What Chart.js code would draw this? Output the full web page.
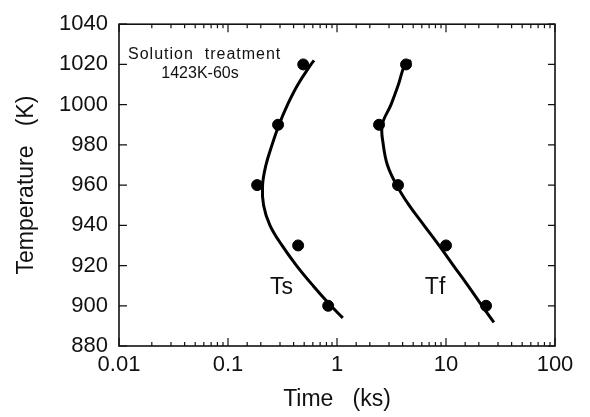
<!DOCTYPE html>
<html>
<head>
<meta charset="utf-8">
<script src="https://cdn.jsdelivr.net/npm/chart.js@4.4.1/dist/chart.umd.min.js"></script>
<style>
  html, body { margin: 0; padding: 0; background: #fff; }
  #wrap { width: 590px; height: 417px; }
</style>
</head>
<body>
<div id="wrap"><canvas id="ttt-chart"></canvas></div>
<script>
// measured points
const tsTime = [0.49, 0.288, 0.185, 0.44, 0.83];
const tsTemp = [1020, 990, 960, 930, 900];
const tfTime = [4.3, 2.43, 3.63, 10, 23.3];
const tfTemp = [1020, 990, 960, 930, 900];

// fitted curves
const tsCurveTemp = [1022, 1020, 1010, 1000, 990, 980, 970, 960, 950, 940, 930, 920, 910, 900, 894];
const tsCurveTime = [0.615, 0.577, 0.438, 0.352, 0.294, 0.2535, 0.223, 0.2075, 0.212, 0.2426, 0.313, 0.425, 0.603, 0.88, 1.13];
const tfCurveTemp = [1022, 1020, 1010, 1000, 990, 980, 970, 960, 950, 940, 930, 920, 910, 900, 891.7];
const tfCurveTime = [4.78, 4.21, 3.66, 3.13, 2.6, 2.66, 2.9, 3.52, 4.58, 6.28, 8.63, 11.7, 15.9, 21.4, 27.5];

const yTicks = [880, 900, 920, 940, 960, 980, 1000, 1020, 1040];

const FONT = '"Liberation Sans", Arial, sans-serif';

function pairs(xs, ys) {
    return xs.map((x, i) => ({ x: x, y: ys[i] }));
}

function isDecade(v) {
    const l = Math.log10(v);
    return Math.abs(l - Math.round(l)) < 1e-6;
}

// frame, inward ticks and in-plot labels
const framePlugin = {
    id: 'frame',
    afterDraw(chart) {
        const ctx = chart.ctx;
        const a = chart.chartArea;
        const xs = chart.scales.x;
        const ys = chart.scales.y;
        ctx.save();
        ctx.strokeStyle = '#111';
        ctx.lineWidth = 1.6;
        ctx.strokeRect(a.left, a.top, a.right - a.left, a.bottom - a.top);

        ctx.lineWidth = 1.2;
        ctx.beginPath();
        xs.ticks.forEach(t => {
            const px = xs.getPixelForValue(t.value);
            const len = isDecade(t.value) ? 8 : 4;
            ctx.moveTo(px, a.bottom); ctx.lineTo(px, a.bottom - len);
            ctx.moveTo(px, a.top); ctx.lineTo(px, a.top + len);
        });
        yTicks.forEach(v => {
            const py = ys.getPixelForValue(v);
            ctx.moveTo(a.left, py); ctx.lineTo(a.left + 8, py);
            ctx.moveTo(a.right, py); ctx.lineTo(a.right - 7, py);
        });
        ctx.stroke();

        ctx.fillStyle = '#111';
        ctx.textBaseline = 'alphabetic';
        ctx.font = '16px ' + FONT;
        ctx.textAlign = 'left';
        ctx.letterSpacing = '1px';
        ctx.fillText('Solution  treatment', a.left + 9, a.top + 35);
        ctx.letterSpacing = '0px';
        ctx.textAlign = 'center';
        ctx.fillText('1423K-60s', a.left + 81, a.top + 54);

        ctx.font = '23px ' + FONT;
        ctx.textAlign = 'left';
        ctx.fillText('Ts', xs.getPixelForValue(0.243), ys.getPixelForValue(906));
        ctx.fillText('Tf', xs.getPixelForValue(6.4), ys.getPixelForValue(906));
        ctx.restore();
    }
};

function curve(label, xs, ys) {
    return {
        label: label, data: pairs(xs, ys), showLine: true, tension: 0.4,
        borderColor: '#000', borderWidth: 3, pointRadius: 0
    };
}

function dots(label, xs, ys) {
    return {
        label: label, data: pairs(xs, ys),
        backgroundColor: '#000', borderColor: '#000', pointRadius: 5.5
    };
}

document.addEventListener('DOMContentLoaded', () => {
    const canvas = document.getElementById('ttt-chart');
    new Chart(canvas, {
        type: 'scatter',
        data: {
            datasets: [
                curve('Ts curve', tsCurveTime, tsCurveTemp),
                curve('Tf curve', tfCurveTime, tfCurveTemp),
                dots('Ts', tsTime, tsTemp),
                dots('Tf', tfTime, tfTemp)
            ]
        },
        options: {
            responsive: true,
            maintainAspectRatio: false,
            animation: false,
            layout: { padding: { top: 18, right: 35, left: 0, bottom: 0 } },
            plugins: { legend: { display: false }, tooltip: { enabled: false } },
            scales: {
                x: {
                    type: 'logarithmic',
                    min: 0.01,
                    max: 100,
                    border: { display: false },
                    grid: { display: false, drawTicks: false },
                    ticks: {
                        autoSkip: false,
                        maxRotation: 0,
                        padding: 6,
                        color: '#111',
                        font: { family: FONT, size: 22 },
                        callback: (v) => isDecade(v) ? String(Number(v.toPrecision(1))) : ''
                    },
                    title: { display: true, text: 'Time   (ks)', color: '#111',
                             font: { family: FONT, size: 23 }, padding: { top: 4, bottom: 4 } },
                    afterFit: (s) => { s.height = 71; }
                },
                y: {
                    type: 'linear',
                    min: 880,
                    max: 1040,
                    border: { display: false },
                    grid: { display: false, drawTicks: false },
                    ticks: {
                        stepSize: 20,
                        padding: 11,
                        color: '#111',
                        font: { family: FONT, size: 22 },
                        callback: (v) => String(v)
                    },
                    title: { display: true, text: 'Temperature   (K)', color: '#111',
                             font: { family: FONT, size: 23 }, padding: { top: 13, bottom: 4 } },
                    afterFit: (s) => { s.width = 119; }
                }
            }
        },
        plugins: [framePlugin]
    });
});
</script>
</body>
</html>
